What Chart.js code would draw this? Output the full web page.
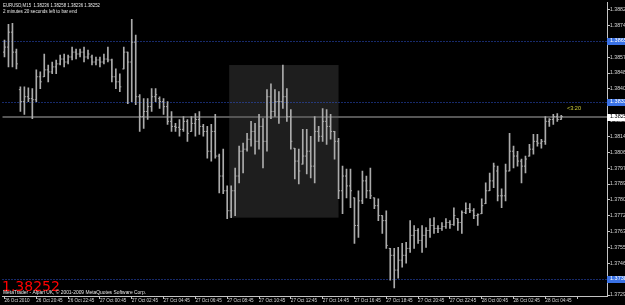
<!DOCTYPE html>
<html><head><meta charset="utf-8">
<script src="https://cdn.jsdelivr.net/npm/chart.js@4.4.1/dist/chart.umd.min.js"></script>
<style>html,body{margin:0;padding:0;background:#000;overflow:hidden}#wrap{width:625px;height:305px;position:relative}</style>
</head><body><div id="wrap"><canvas id="c" width="625" height="305"></canvas></div>
<script>
// EURUSD M15 bars
const openP = [
1.38597,1.38624,1.38704,1.38597,1.38396,1.38332,1.38358,1.38348,1.38342,1.38465,
1.38465,1.38502,1.38491,1.38518,1.38534,1.38560,1.38544,1.38571,1.38597,1.38587,
1.38597,1.38571,1.38571,1.38544,1.38555,1.38544,1.38560,1.38555,1.38465,1.38438,
1.38507,1.38597,1.38544,1.38650,1.38358,1.38252,1.38279,1.38305,1.38358,1.38348,
1.38332,1.38305,1.38226,1.38199,1.38194,1.38183,1.38226,1.38172,1.38215,1.38236,
1.38199,1.38172,1.38066,1.38172,1.38040,1.37933,1.37854,1.37747,1.37854,1.37933,
1.38066,1.38077,1.38130,1.38172,1.38119,1.38199,1.38119,1.38358,1.38279,1.38332,
1.38332,1.38358,1.38252,1.38082,1.38013,1.37997,1.38040,1.38066,1.37986,1.38172,
1.38146,1.38226,1.38199,1.38172,1.38119,1.37854,1.37933,1.37880,1.37816,1.37668,
1.37800,1.37907,1.37854,1.37816,1.37774,1.37721,1.37694,1.37545,1.37508,1.37429,
1.37482,1.37508,1.37545,1.37615,1.37641,1.37588,1.37615,1.37641,1.37668,1.37652,
1.37652,1.37662,1.37684,1.37673,1.37705,1.37684,1.37737,1.37758,1.37747,1.37721,
1.37731,1.37785,1.37854,1.37907,1.37960,1.37827,1.37827,1.37960,1.38066,1.38040,
1.38013,1.37986,1.38040,1.38077,1.38119,1.38109,1.38119,1.38226,1.38236,1.38252,
1.38236];
const highP = [
1.38661,1.38746,1.38751,1.38613,1.38411,1.38411,1.38406,1.38401,1.38502,1.38491,
1.38587,1.38528,1.38544,1.38555,1.38581,1.38587,1.38581,1.38624,1.38613,1.38613,
1.38624,1.38608,1.38581,1.38571,1.38571,1.38587,1.38624,1.38560,1.38507,1.38481,
1.38624,1.38597,1.38773,1.38688,1.38369,1.38348,1.38348,1.38401,1.38401,1.38358,
1.38348,1.38332,1.38279,1.38215,1.38236,1.38252,1.38236,1.38252,1.38268,1.38279,
1.38210,1.38199,1.38210,1.38263,1.38050,1.38077,1.37880,1.37880,1.37976,1.38093,
1.38109,1.38162,1.38226,1.38215,1.38263,1.38241,1.38396,1.38427,1.38396,1.38385,
1.38528,1.38401,1.38289,1.38082,1.38077,1.38183,1.38183,1.38146,1.38252,1.38199,
1.38295,1.38289,1.38263,1.38172,1.38135,1.37986,1.37970,1.37970,1.37816,1.37854,
1.37960,1.37933,1.37976,1.37816,1.37811,1.37721,1.37747,1.37545,1.37545,1.37551,
1.37572,1.37577,1.37694,1.37668,1.37652,1.37668,1.37657,1.37705,1.37710,1.37668,
1.37684,1.37705,1.37694,1.37763,1.37705,1.37747,1.37790,1.37785,1.37758,1.37731,
1.37811,1.37896,1.37949,1.38002,1.37986,1.37864,1.37997,1.38162,1.38093,1.38066,
1.38024,1.38040,1.38103,1.38156,1.38156,1.38130,1.38252,1.38241,1.38263,1.38268,
1.38258];
const lowP = [
1.38571,1.38518,1.38518,1.38507,1.38279,1.38263,1.38332,1.38241,1.38332,1.38401,
1.38465,1.38438,1.38481,1.38481,1.38528,1.38518,1.38534,1.38555,1.38560,1.38571,
1.38544,1.38560,1.38528,1.38528,1.38518,1.38534,1.38544,1.38438,1.38401,1.38385,
1.38507,1.38321,1.38332,1.38316,1.38172,1.38188,1.38236,1.38279,1.38332,1.38295,
1.38263,1.38210,1.38172,1.38172,1.38146,1.38172,1.38119,1.38172,1.38146,1.38156,
1.38146,1.38029,1.38013,1.38029,1.37843,1.37838,1.37705,1.37710,1.37721,1.37896,
1.37949,1.38066,1.38093,1.38050,1.38077,1.37976,1.38066,1.38241,1.38252,1.38215,
1.38295,1.38226,1.38077,1.37917,1.37891,1.37997,1.37944,1.37923,1.37896,1.38119,
1.38119,1.38103,1.38130,1.38024,1.37811,1.37731,1.37816,1.37763,1.37572,1.37604,
1.37785,1.37816,1.37811,1.37758,1.37694,1.37625,1.37545,1.37375,1.37333,1.37386,
1.37445,1.37466,1.37524,1.37545,1.37572,1.37524,1.37551,1.37604,1.37625,1.37630,
1.37641,1.37652,1.37652,1.37668,1.37641,1.37625,1.37731,1.37737,1.37705,1.37668,
1.37731,1.37785,1.37854,1.37870,1.37800,1.37763,1.37800,1.37960,1.37976,1.37986,
1.37896,1.37949,1.38040,1.38050,1.38093,1.38082,1.38103,1.38199,1.38210,1.38226,
1.38236];
const closeP = [
1.38624,1.38704,1.38597,1.38534,1.38332,1.38358,1.38348,1.38342,1.38465,1.38438,
1.38502,1.38491,1.38518,1.38534,1.38560,1.38544,1.38571,1.38597,1.38587,1.38597,
1.38571,1.38587,1.38544,1.38555,1.38544,1.38560,1.38555,1.38465,1.38438,1.38411,
1.38597,1.38544,1.38650,1.38358,1.38252,1.38279,1.38305,1.38358,1.38369,1.38332,
1.38305,1.38226,1.38199,1.38194,1.38183,1.38226,1.38162,1.38215,1.38236,1.38199,
1.38172,1.38066,1.38172,1.38040,1.37933,1.37854,1.37747,1.37854,1.37933,1.38066,
1.38077,1.38130,1.38172,1.38119,1.38199,1.38119,1.38358,1.38279,1.38332,1.38332,
1.38358,1.38252,1.38119,1.38013,1.37960,1.38040,1.38066,1.37986,1.38172,1.38146,
1.38226,1.38199,1.38172,1.38119,1.37854,1.37933,1.37880,1.37854,1.37668,1.37800,
1.37907,1.37854,1.37827,1.37774,1.37721,1.37694,1.37561,1.37508,1.37429,1.37482,
1.37508,1.37545,1.37615,1.37641,1.37588,1.37615,1.37641,1.37668,1.37652,1.37652,
1.37662,1.37684,1.37673,1.37721,1.37684,1.37737,1.37758,1.37747,1.37721,1.37726,
1.37774,1.37854,1.37907,1.37986,1.37827,1.37827,1.37960,1.38066,1.38040,1.38013,
1.37986,1.38024,1.38077,1.38119,1.38109,1.38119,1.38226,1.38236,1.38252,1.38236,
1.38252];

const xTickLabels = ["26 Oct 2010","26 Oct 20:45","26 Oct 22:45","27 Oct 00:45","27 Oct 02:45",
 "27 Oct 04:45","27 Oct 06:45","27 Oct 08:45","27 Oct 10:45","27 Oct 12:45","27 Oct 14:45",
 "27 Oct 16:45","27 Oct 18:45","27 Oct 20:45","27 Oct 22:45","28 Oct 00:45","28 Oct 02:45","28 Oct 04:45"];
const barsPerXTick = 8;
const yTickValues = [1.37295,1.37380,1.37465,1.37550,1.37635,1.37720,1.37805,1.37890,1.37975,
 1.38060,1.38145,1.38230,1.38315,1.38400,1.38485,1.38570,1.38655,1.38740,1.38825];
const yRange = [1.37290, 1.38863];
const levelLines = [1.38655, 1.38332, 1.37380];
const bidPrice = 1.38252;
const boxRegion = [56.5, 84.0, 1.38528, 1.37710]; // from bar, to bar, top price, bottom price
const shiftSlots = 11;
const symbolLine = "EURUSD,M15  1.38236 1.38258 1.38236 1.38252";
const timerLine = "2 minutes 20 seconds left to bar end";
const timerTag = "<3:20";
const bigPrice = "1.38252";
const copyright = "MetaTrader - Alpari UK, \u00a9 2001-2009 MetaQuotes Software Corp.";

const slots = highP.length + shiftSlots;
const labels = Array.from({length: slots}, (_, i) => i);
const padTo = a => a.concat(Array(slots - a.length).fill(null));
const hlData = padTo(lowP.map((l, i) => [l, highP[i]]));

const BAR = '#ababab';
const AX = '#c4c4c4';
const SMALL = "'Liberation Sans Narrow','Liberation Sans',Arial,sans-serif";

function fitText(ctx, txt, x, yTop, size, width, color, family) {
  ctx.save();
  ctx.font = size + 'px ' + (family || SMALL);
  ctx.textBaseline = 'top';
  ctx.textAlign = 'left';
  ctx.fillStyle = color;
  const w = ctx.measureText(txt).width;
  ctx.translate(x, yTop);
  if (width && w > 0) ctx.scale(width / w, 1);
  ctx.fillText(txt, 0, 0);
  ctx.restore();
}

const mt4 = {
  id: 'mt4',
  beforeDraw(chart) {
    const c = chart.ctx;
    c.save(); c.fillStyle = '#000'; c.fillRect(0, 0, chart.width, chart.height); c.restore();
  },
  beforeDatasetsDraw(chart) {
    const {ctx, scales: {x, y}, chartArea: a} = chart;
    ctx.save();
    const x0 = x.getPixelForValue(boxRegion[0]), x1 = x.getPixelForValue(boxRegion[1]);
    const y0 = y.getPixelForValue(boxRegion[2]), y1 = y.getPixelForValue(boxRegion[3]);
    ctx.fillStyle = '#1e1e1e';
    ctx.fillRect(x0, y0, x1 - x0, y1 - y0);
    ctx.lineWidth = 1;
    ctx.strokeStyle = '#2f55d4';
    ctx.setLineDash([1, 2]);
    levelLines.forEach(v => {
      const py = Math.round(y.getPixelForValue(v)) + 0.5;
      ctx.beginPath(); ctx.moveTo(a.left, py); ctx.lineTo(a.right, py); ctx.stroke();
    });
    ctx.setLineDash([]);
    ctx.strokeStyle = '#555555';
    ctx.lineWidth = 2;
    const by = Math.round(y.getPixelForValue(bidPrice));
    ctx.beginPath(); ctx.moveTo(a.left, by); ctx.lineTo(a.right, by); ctx.stroke();
    ctx.restore();
  },
  afterDraw(chart) {
    const {ctx, scales: {x, y}, chartArea: a} = chart;
    ctx.save();
    levelLines.forEach(v => {
      const py = Math.round(y.getPixelForValue(v));
      ctx.fillStyle = '#3a72e6';
      ctx.fillRect(a.right, py - 3, chart.width - a.right, 7);
      fitText(ctx, v.toFixed(5), a.right + 3, py - 3, 5.5, 0, '#ffffff');
    });
    const by = Math.round(y.getPixelForValue(bidPrice));
    ctx.fillStyle = '#ffffff';
    ctx.fillRect(a.right, by - 3, chart.width - a.right, 7);
    fitText(ctx, bidPrice.toFixed(5), a.right + 3, by - 3, 5.5, 0, '#000000');
    fitText(ctx, symbolLine, 3, 2, 6, 97, '#e8e8e8');
    fitText(ctx, timerLine, 3, 8, 6, 74, '#e8e8e8');
    fitText(ctx, timerTag, 567, 105, 6, 14, '#d2d23c');
    ctx.font = "14px 'DejaVu Sans'";
    ctx.fillStyle = '#ff0000';
    ctx.textBaseline = 'alphabetic';
    ctx.fillText(bigPrice, 2, 291);
    fitText(ctx, copyright, 3, 289, 6, 143, '#e8e8e8');
    ctx.restore();
  }
};

new Chart(document.getElementById('c'), {
  data: {
    labels,
    datasets: [
      { type: 'bar', data: hlData, backgroundColor: BAR, borderWidth: 0, barThickness: 1, order: 3 },
      { type: 'line', data: padTo(openP), showLine: false, pointStyle: 'dash', pointRotation: 180,
        pointRadius: 1.5, pointHoverRadius: 1.5, pointBorderColor: BAR, pointBackgroundColor: BAR, pointBorderWidth: 1, order: 2 },
      { type: 'line', data: padTo(closeP), showLine: false, pointStyle: 'dash', pointRotation: 0,
        pointRadius: 1.5, pointHoverRadius: 1.5, pointBorderColor: BAR, pointBackgroundColor: BAR, pointBorderWidth: 1, order: 1 }
    ]
  },
  options: {
    responsive: false, animation: false, devicePixelRatio: 1, events: [],
    layout: { padding: 0 },
    plugins: { legend: { display: false }, tooltip: { enabled: false } },
    scales: {
      x: {
        type: 'category', offset: true,
        grid: { drawOnChartArea: false, drawTicks: true, tickLength: 3, offset: false,
          color: c => (c.index % barsPerXTick === 0 ? AX : 'rgba(0,0,0,0)') },
        border: { color: AX, width: 1 },
        ticks: { autoSkip: false, maxRotation: 0, minRotation: 0, align: 'start', padding: -1,
          color: '#d8d8d8', font: { family: SMALL, size: 4.6 },
          callback: (v, i) => (i % barsPerXTick === 0 ? (xTickLabels[i / barsPerXTick] || '') : '') },
        afterFit: s => { s.height = 9; s.paddingLeft = 0; s.paddingRight = 0; }
      },
      y: {
        type: 'linear', position: 'right', min: yRange[0], max: yRange[1],
        grid: { drawOnChartArea: false, drawTicks: true, tickLength: 3, color: AX },
        border: { color: AX, width: 1 },
        afterBuildTicks: s => { s.ticks = yTickValues.map(v => ({ value: v })); },
        ticks: { autoSkip: false, padding: 0, color: '#d8d8d8', font: { family: SMALL, size: 5.2 },
          callback: v => Number(v).toFixed(5) },
        afterFit: s => { s.width = 18; s.paddingTop = 0; s.paddingBottom = 0; }
      }
    }
  },
  plugins: [mt4]
});
</script>
</body></html>
